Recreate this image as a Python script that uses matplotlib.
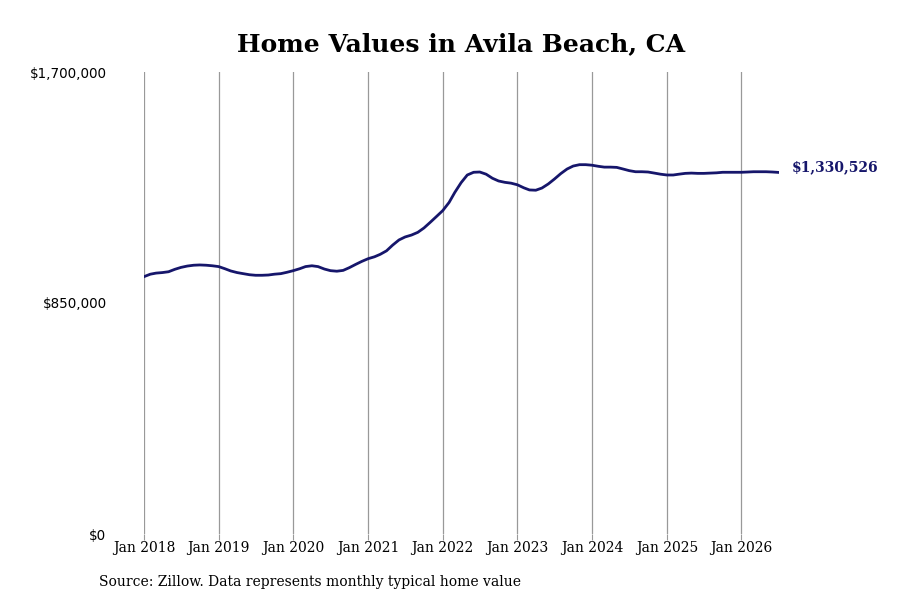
import matplotlib
matplotlib.use('Agg')
import pandas as pd
import matplotlib.pyplot as plt
import matplotlib.dates as mdates
from matplotlib.ticker import FuncFormatter

# 月度典型房价（美元），2018-01 到 2026-07
values = [
    947000, 956000, 960000, 962000, 965000, 974000, 981000, 986000, 989000, 990000, 989000, 987000,
    984000, 976000, 968000, 962000, 958000, 954000, 952000, 952000, 953000, 956000, 958000, 963000,
    969000, 976000, 984000, 987000, 984000, 975000, 969000, 967000, 970000, 980000, 992000, 1003000,
    1013000, 1020000, 1029000, 1042000, 1063000, 1082000, 1093000, 1100000, 1110000, 1126000, 1147000, 1168000,
    1190000, 1220000, 1257000, 1293000, 1321000, 1331000, 1332000, 1324000, 1309000, 1299000, 1294000, 1291000,
    1285000, 1274000, 1266000, 1265000, 1273000, 1288000, 1306000, 1326000, 1343000, 1354000, 1359000, 1359000,
    1357000, 1353000, 1350000, 1350000, 1349000, 1343000, 1337000, 1333000, 1333000, 1332000, 1328000, 1324000,
    1321000, 1321000, 1324000, 1327000, 1328000, 1327000, 1327000, 1328000, 1329000, 1331000, 1331000, 1331000,
    1331000, 1332000, 1333000, 1333000, 1333000, 1332000, 1330526,
]
dates = pd.date_range('2018-01-01', periods=len(values), freq='MS')
y_ticks = [0, 850000, 1700000]
x_tick_years = list(range(2018, 2027))

line_color = '#16166b'

fig = plt.figure(figsize=(9, 6), dpi=100)
ax = fig.add_axes([0.16, 0.11, 0.705, 0.77])

ax.plot(dates, values, color=line_color, linewidth=2)
ax.set_xlim(dates[0], dates[-1])
ax.set_ylim(0, 1700000)

# 竖向网格线
ax.set_xticks([pd.Timestamp(f'{y}-01-01') for y in x_tick_years])
ax.xaxis.set_major_formatter(mdates.DateFormatter('Jan %Y'))
ax.grid(axis='x', color='#999999', linewidth=0.9)
ax.set_axisbelow(True)
ax.tick_params(axis='x', length=4, color='#999999', labelsize=10, pad=1)
for lbl in ax.get_xticklabels():
    lbl.set_family('DejaVu Serif')

ax.set_yticks(y_ticks)
ax.yaxis.set_major_formatter(FuncFormatter(lambda v, p: f'${v:,.0f}'))
ax.tick_params(axis='y', length=0, labelsize=9.75, pad=27)

for s in ax.spines.values():
    s.set_visible(False)

# 末端数值标签
ax.annotate(f'${values[-1]:,.0f}', xy=(dates[-1], values[-1]), xytext=(9.5, 4),
            textcoords='offset points', va='center', ha='left', fontsize=10,
            fontweight='bold', family='DejaVu Serif', color=line_color,
            annotation_clip=False)

fig.text(0.512, 0.927, 'Home Values in Avila Beach, CA', ha='center', va='center',
         fontsize=18, fontweight='bold', family='DejaVu Serif')
fig.text(0.11, 0.03, 'Source: Zillow. Data represents monthly typical home value',
         ha='left', va='center', fontsize=10, family='DejaVu Serif')

fig.savefig('out.png', dpi=100)
